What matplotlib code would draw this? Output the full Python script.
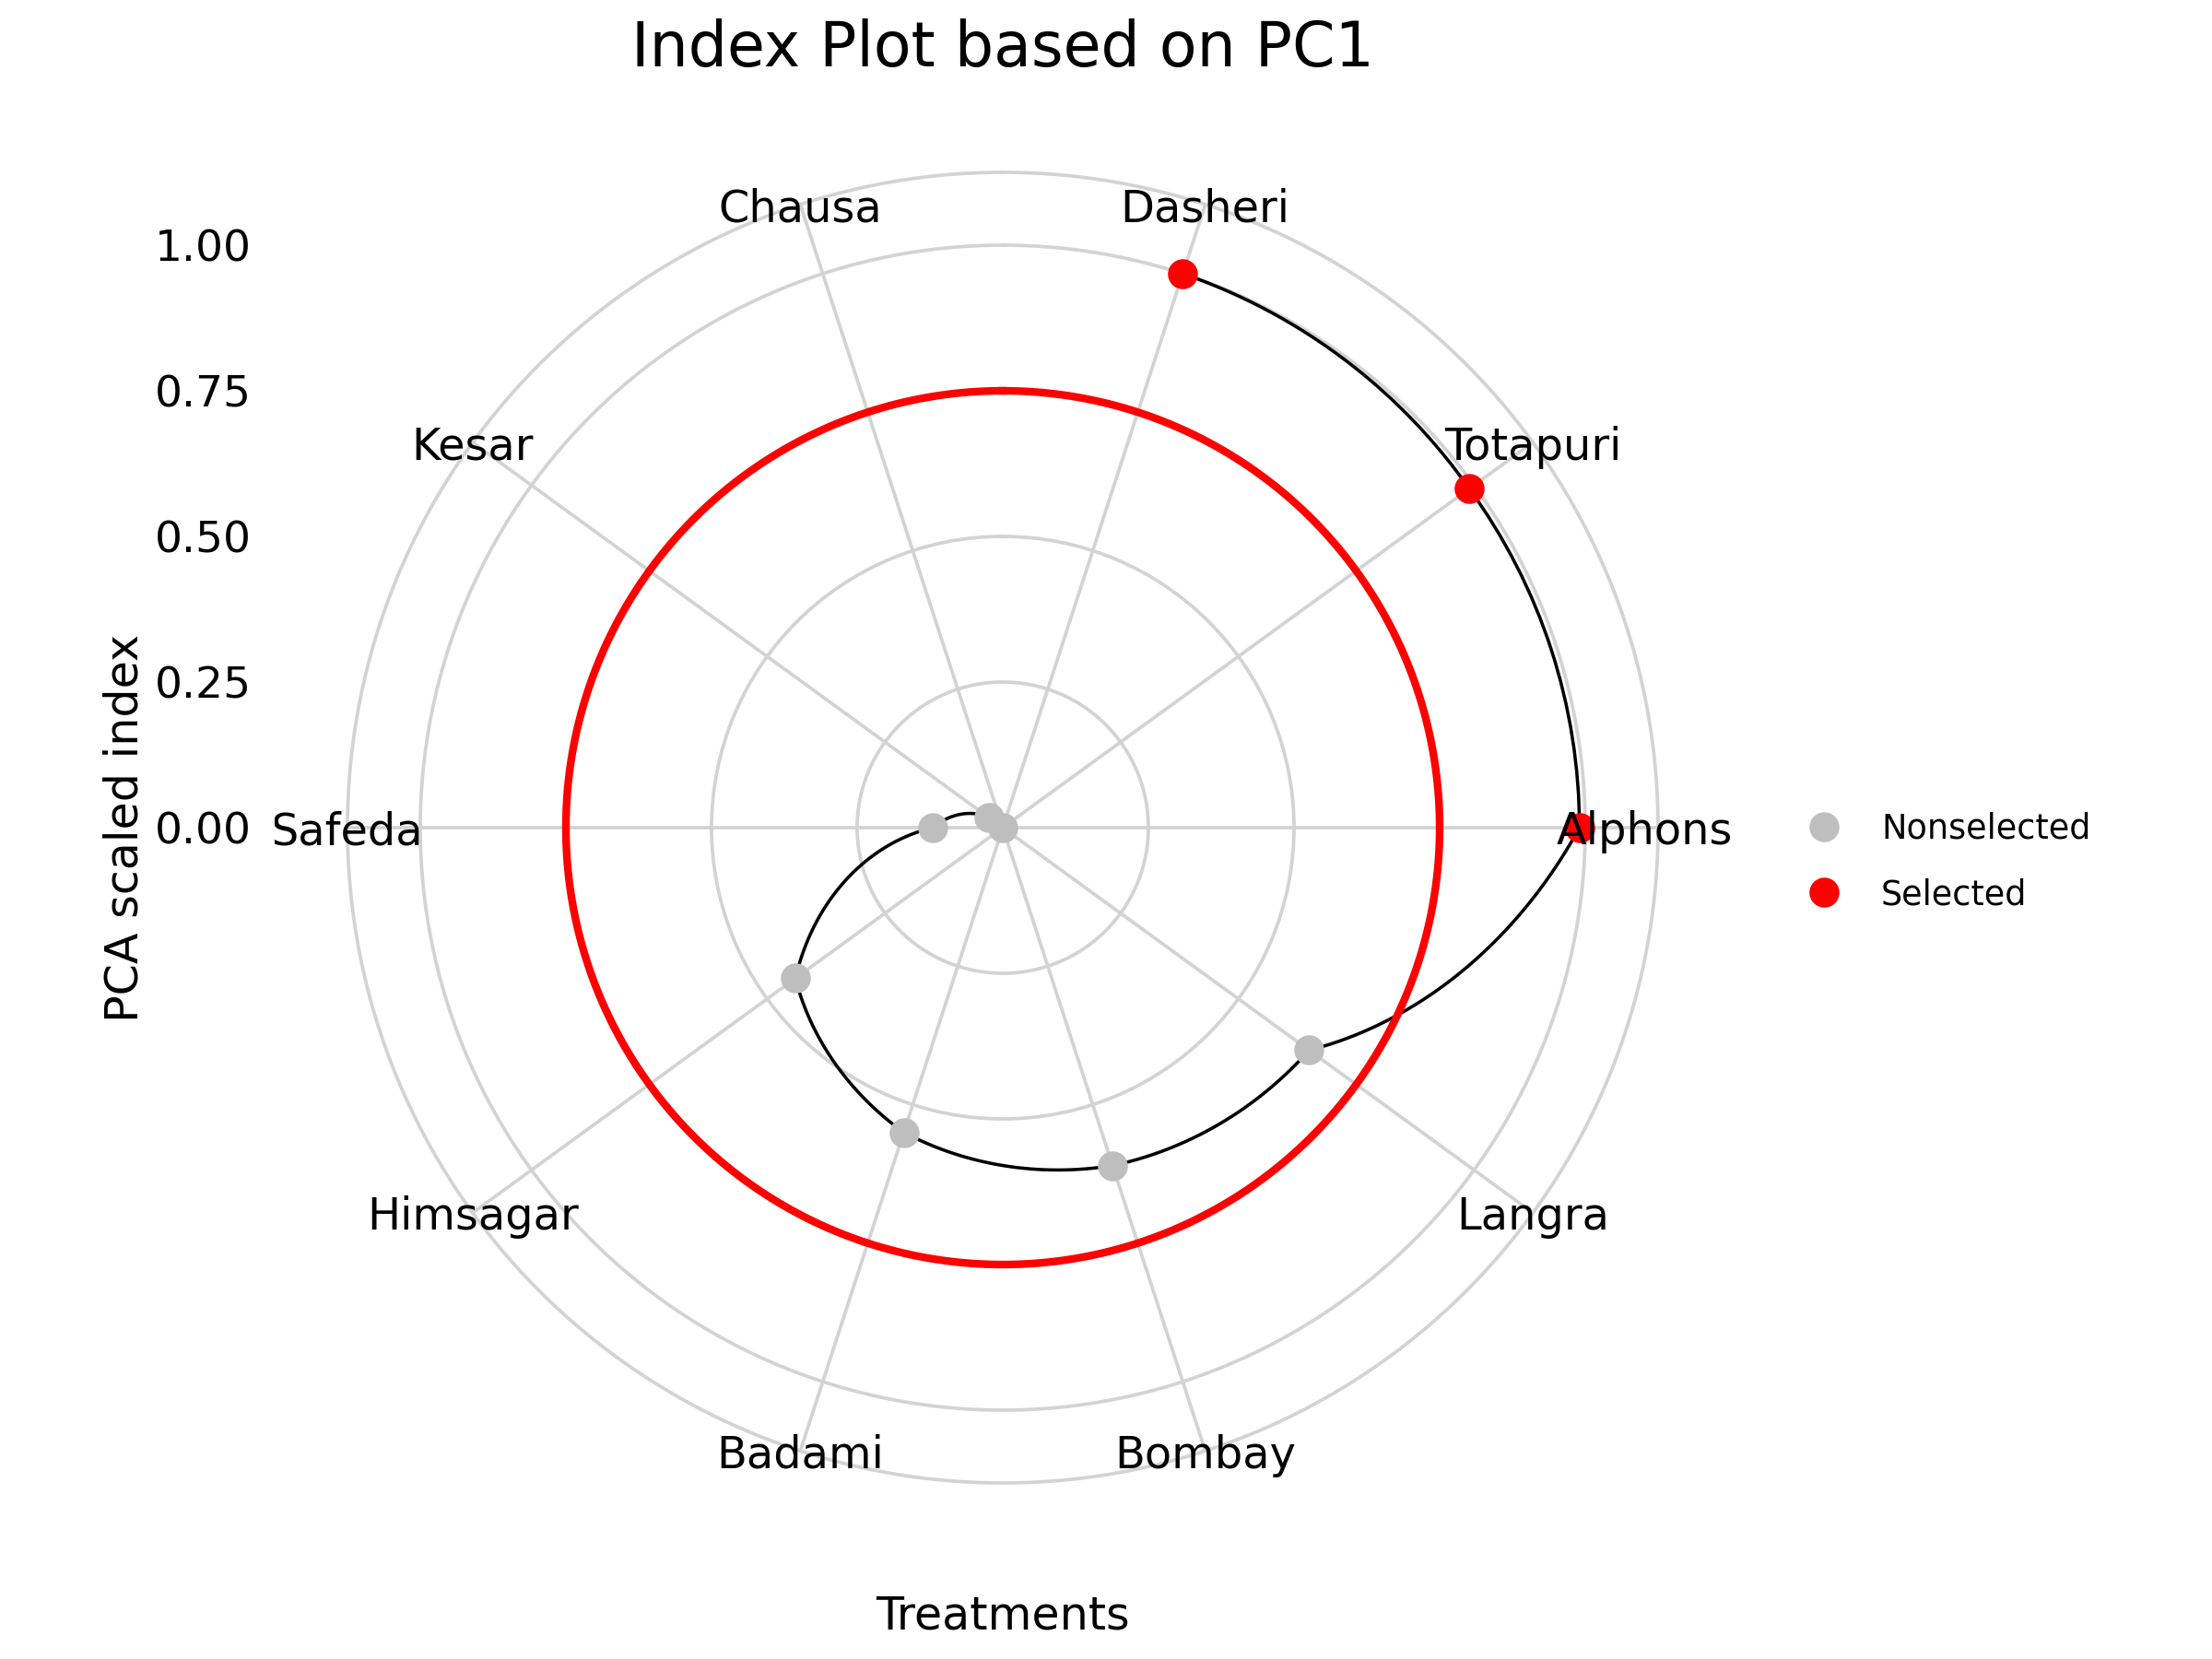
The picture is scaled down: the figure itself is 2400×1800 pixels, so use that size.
import numpy as np
import matplotlib.pyplot as plt

# treatments sorted by index (clockwise from the top)
treatments = ["Dasheri", "Totapuri", "Alphonso", "Langra", "Bombay",
              "Badami", "Himsagar", "Safeda", "Kesar", "Chausa"]
pc1_index = [1.00, 0.99, 0.99, 0.65, 0.61, 0.55, 0.44, 0.12, 0.03, 0.00]
cutoff = 0.75
r_ticks = [0.0, 0.25, 0.5, 0.75, 1.0]
r_labels = ["0.00", "0.25", "0.50", "0.75", "1.00"]

idx = np.array(pc1_index)
n = len(treatments)
theta = 2 * np.pi * (np.arange(n) + 0.5) / n
sel = idx > cutoff

grid_col = "#D3D3D3"

W, H = 2400, 1800
cx, cy = 1088, 898      # centre of panel in pixels
r1 = 632                # pixels for index 1.0

fig = plt.figure(figsize=(8, 6), dpi=300)

# cartesian panel only for the radial labels and axis titles
half = r1 * 1.25
cax = fig.add_axes([(cx - half) / W, (H - cy - half) / H, 2 * half / W, 2 * half / H])
cax.set_xlim(-1.25, 1.25)
cax.set_ylim(-1.25, 1.25)
for s in cax.spines.values():
    s.set_visible(False)
cax.set_xticks([])
cax.set_yticks(r_ticks)
cax.set_yticklabels(r_labels)
cax.tick_params(axis="y", length=0, pad=6, labelsize=11.3)
cax.set_xlabel("Treatments", fontsize=11.8, labelpad=10)
cax.set_ylabel("PCA scaled index", fontsize=11.8, labelpad=2)
cax.patch.set_alpha(0)

# polar panel
hp = r1 * 1.125
ax = fig.add_axes([(cx - hp) / W, (H - cy - hp) / H, 2 * hp / W, 2 * hp / H],
                  projection="polar")
ax.patch.set_alpha(0)
ax.set_theta_zero_location("N")
ax.set_theta_direction(-1)
ax.set_ylim(0, 1.125)
ax.set_xticks(theta)
ax.set_xticklabels([])
ax.set_yticks(r_ticks[1:])
ax.set_yticklabels([])
ax.tick_params(length=0)
ax.grid(True, color=grid_col, lw=0.9)
ax.spines["polar"].set_color(grid_col)
ax.spines["polar"].set_linewidth(0.9)

ln, = ax.plot(theta, idx, color="black", lw=0.85, zorder=2)
ln.get_path()._interpolation_steps = 60   # spiral between points like coord_polar

p_no, = ax.plot(theta[~sel], idx[~sel], "o", color="#BEBEBE", ms=6.8,
                label="Nonselected", zorder=3)
p_yes, = ax.plot(theta[sel], idx[sel], "o", color="red", ms=6.8,
                 label="Selected", zorder=3)

circ = np.linspace(0, 2 * np.pi, 400)
ax.plot(circ, np.full_like(circ, cutoff), color="red", lw=2, zorder=4)

for t, name in zip(theta, treatments):
    txt = ax.text(t, 1.125, name, ha="center", va="center_baseline",
                  fontsize=11.5, clip_on=True, zorder=5)
    txt.set_clip_path(cax.patch)

fig.text(cx / W, 1 - 72 / H, "Index Plot based on PC1", ha="center",
         va="baseline", fontsize=16)

fig.legend(handles=[p_no, p_yes], loc="center left",
           bbox_to_anchor=(1942 / W, 1 - 935 / H), frameon=False,
           fontsize=8.8, handlelength=1, handletextpad=1.2,
           labelspacing=0.93, borderpad=0)

fig.savefig("out.png", dpi=300, facecolor="white")
